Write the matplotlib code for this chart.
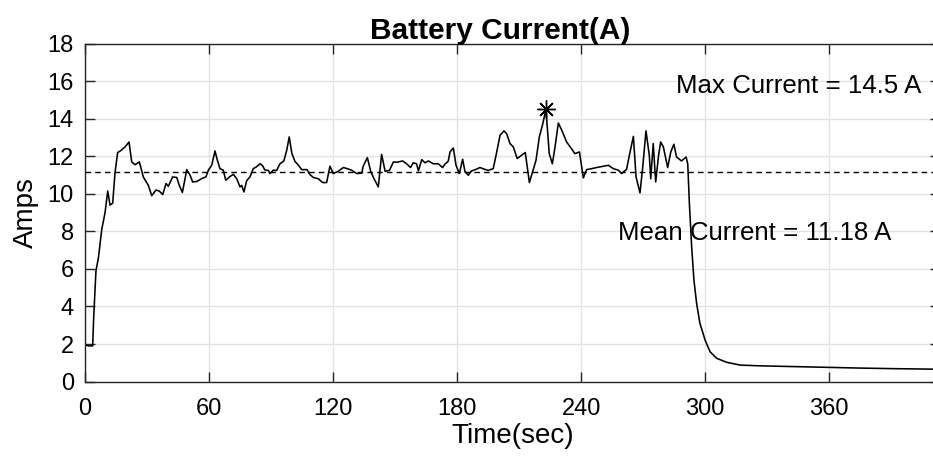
import numpy as np
import matplotlib
matplotlib.use('Agg')
from matplotlib import pyplot as plt

# battery current trace (time in s, current in A)
time_s = [0, 2, 3.7, 4.2, 5.3, 6.5, 8.1, 9.7, 11.0, 12.1, 13.4, 14.5, 15.8, 17.3, 19.4, 21.3,
          22.6, 24.2, 26.3, 28.2, 30.6, 32.3, 34.3, 35.9, 37.6, 39.2, 40.3, 42.4, 44.4, 45.6,
          47.1, 48.4, 49.2, 50.8, 52.1, 54.2, 56.4, 58.5, 59.7, 61.3, 62.9, 64.0, 65.3, 66.9,
          68.1, 69.9, 71.8, 73.4, 75.0, 75.8, 76.9, 78.2, 79.8, 81.4, 83.0, 84.7, 85.9, 87.0,
          88.7, 89.5, 91.1, 92.7, 94.3, 96.2, 97.6, 98.8, 100.1, 101.6, 103.3, 104.8, 107.4,
          108.9, 110.5, 112.9, 115.0, 116.9, 118.5, 120.1, 122.5, 125.0, 126.6, 129.0, 131.4,
          133.9, 134.6, 136.6, 138.2, 139.8, 141.9, 143.5, 145.2, 147.3, 149.2, 150.8, 153.7,
          155.6, 157.5, 158.8, 160.4, 161.3, 162.9, 164.5, 166.1, 168.5, 170.9, 173.0, 174.1,
          175.7, 176.6, 178.2, 179.5, 181.1, 182.7, 183.8, 185.4, 187.0, 189.1, 191.1, 193.5,
          195.1, 197.5, 199.2, 200.8, 202.7, 204.0, 205.6, 207.2, 209.1, 211.2, 213.0, 215.0,
          216.6, 218.2, 219.8, 221.4, 223.0, 224.6, 226.1, 227.4, 229.0, 230.6, 233.0, 235.4,
          237.0, 239.2, 241.1, 242.7, 245.1, 247.5, 250.0, 253.2, 255.6, 258.0, 259.6, 262.0,
          263.7, 265.3, 266.6, 268.5, 269.8, 271.4, 273.0, 273.7, 274.9, 276.1, 277.4, 278.5,
          279.8, 281.9, 283.4, 284.9, 286.2, 288.6, 290.8, 291.6, 292.4, 293.5, 294.6, 295.9,
          297.5, 300.0, 302.4, 305.6, 310.4, 316.9, 326.5, 342.6, 358.7, 374.9, 391.0, 412.0]
current_a = [1.95, 1.9, 1.9, 3.4, 5.9, 6.6, 8.1, 9.0, 10.15, 9.4, 9.5, 11.1, 12.2, 12.3, 12.5, 12.76,
             11.7, 11.55, 11.7, 10.9, 10.46, 9.9, 10.2, 10.15, 9.96, 10.55, 10.4, 10.9, 10.87, 10.46,
             10.07, 10.8, 11.29, 11.0, 10.63, 10.66, 10.81, 10.9, 11.26, 11.52, 12.28, 11.8, 11.34, 11.26,
             10.72, 10.9, 11.04, 10.8, 10.37, 10.45, 10.1, 10.7, 10.9, 11.34, 11.44, 11.6, 11.5, 11.27,
             11.24, 11.08, 11.26, 11.24, 11.6, 11.75, 12.32, 13.03, 12.14, 11.72, 11.52, 11.29, 11.29,
             11.02, 10.87, 10.8, 10.6, 10.6, 11.47, 11.08, 11.2, 11.4, 11.35, 11.26, 11.08,
             11.1, 11.47, 11.93, 11.2, 10.81, 10.37, 12.1, 11.2, 11.25, 11.7, 11.68, 11.75,
             11.6, 11.4, 11.65, 11.6, 11.22, 11.82, 11.65, 11.75, 11.6, 11.6, 11.4, 11.58,
             11.73, 12.23, 12.44, 11.52, 11.08, 11.84, 11.2, 10.99, 11.22, 11.3, 11.4, 11.3,
             11.25, 11.34, 12.23, 13.12, 13.35, 13.2, 12.68, 12.5, 11.88, 12.05, 12.2, 10.6,
             11.2, 11.79, 13.03, 13.7, 14.5, 12.14, 11.6, 12.5, 13.77, 13.4, 12.76, 12.4,
             12.14, 12.23, 10.85, 11.29, 11.34, 11.4, 11.45, 11.52, 11.34, 11.26, 11.08, 11.3,
             12.23, 13.06, 10.9, 10.05, 11.4, 13.35, 12.05, 10.8, 12.68, 10.63, 11.96, 12.76,
             12.5, 11.4, 12.23, 12.64, 11.96, 11.75, 11.96, 11.6, 9.48, 7.18, 5.4, 4.16,
             3.1, 2.21, 1.59, 1.24, 1.03, 0.88, 0.84, 0.8, 0.76, 0.72, 0.69, 0.66]

mean_current = 11.18
max_current = 14.5
max_time = 223.0

plt.rcParams['font.family'] = ['Liberation Sans', 'DejaVu Sans']

fig = plt.figure(figsize=(9.33, 4.61), dpi=100)
ax = fig.add_axes([85 / 933, 79.4 / 461, 855 / 933, 338 / 461])

ax.plot(time_s, current_a, color='black', linewidth=1.15)
ax.axhline(mean_current, color='black', linestyle='--', linewidth=1.0, dashes=(4, 3))
ax.plot([max_time], [max_current], marker=(8, 2, 0), markersize=13, color='black',
        markeredgewidth=1.0, linestyle='none')

ax.text(286, 15.75, 'Max Current = 14.5 A', fontsize=18.6, va='center', ha='left')
ax.text(258, 7.9, 'Mean Current = 11.18 A', fontsize=18.6, va='center', ha='left')

ax.set_xlim(0, 855 / 2.067)
ax.set_ylim(0, 18)
ax.set_xticks(range(0, 361, 60))
ax.set_yticks(range(0, 19, 2))
ax.grid(True, color='#e3e3e3', linewidth=1.0)
ax.set_axisbelow(True)
ax.tick_params(direction='in', length=7, width=1.0, color='#262626', labelsize=17,
               top=True, right=True)
ax.tick_params(axis='x', pad=12)
ax.tick_params(axis='y', pad=8)
for s in ax.spines.values():
    s.set_color('#262626')
    s.set_linewidth(1.0)

ax.set_xlabel('Time(sec)', fontsize=20, labelpad=2)
ax.set_ylabel('Amps', fontsize=20, labelpad=6)
ttl = ax.set_title('Battery Current(A)', fontsize=21.5, fontweight='bold', pad=3)
ttl.set_x(0.486)

fig.savefig('out.png', dpi=100)
